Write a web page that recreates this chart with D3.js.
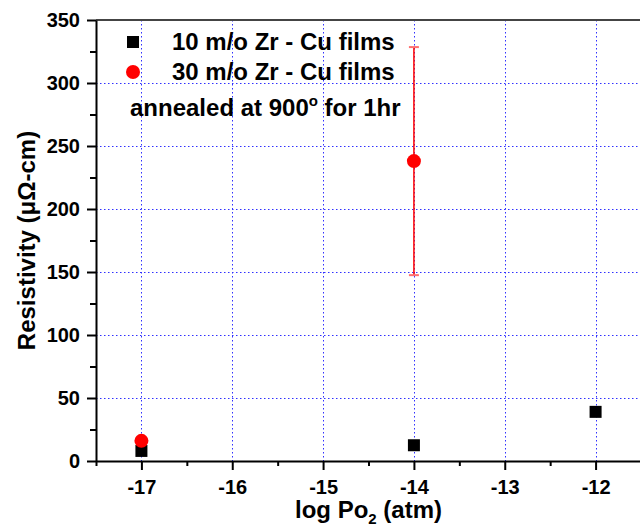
<!DOCTYPE html>
<html>
<head>
<meta charset="utf-8">
<script src="https://cdn.jsdelivr.net/npm/d3@7"></script>
<style>
	body { margin: 0; background: #fff; }
	svg text { font-family: Arial, 'Liberation Sans', sans-serif; font-weight: bold; }
</style>
</head>
<body>
<div id="chart"></div>
<script>
// data
const logPo2_10 = [-17, -14, -12];
const rho_10 = [8, 12.5, 39];
const logPo2_30 = [-17, -14];
const rho_30 = [16, 238];
const err_30 = [0, 90.5];

const xTicks = [-17, -16, -15, -14, -13, -12];
const xMinor = [-17.5, -16.5, -15.5, -14.5, -13.5, -12.5, -11.5];
const yTicks = [0, 50, 100, 150, 200, 250, 300, 350];
const yMinor = [25, 75, 125, 175, 225, 275, 325];

const width = 640, height = 530;
const margin = {top: 20, left: 96, bottom: 69};

const svg = d3.select('#chart')
	.append('svg')
	.attr('width', width)
	.attr('height', height);

const x = d3.scaleLinear().domain([-17.5, -11.5]).range([margin.left, 641]);
const y = d3.scaleLinear().domain([0, 350]).range([height - margin.bottom, margin.top]);

const fmt = d => String(d); // plain hyphen minus, as in the original

// grid (dotted blue)
const grid = svg.append('g')
	.attr('stroke', '#3030ff')
	.attr('stroke-width', 1)
	.attr('stroke-dasharray', '1.5,2.5');

grid.selectAll('line.v')
	.data(xTicks)
	.enter().append('line')
		.attr('class', 'v')
		.attr('x1', d => Math.round(x(d)) + 0.5)
		.attr('x2', d => Math.round(x(d)) + 0.5)
		.attr('y1', y(350))
		.attr('y2', y(0));

grid.selectAll('line.h')
	.data(yTicks.filter(d => d > 0 && d < 350))
	.enter().append('line')
		.attr('class', 'h')
		.attr('x1', x(-17.5))
		.attr('x2', width)
		.attr('y1', d => Math.round(y(d)) + 0.5)
		.attr('y2', d => Math.round(y(d)) + 0.5);

// top frame
svg.append('line')
	.attr('x1', x(-17.5)).attr('x2', width)
	.attr('y1', y(350)).attr('y2', y(350))
	.attr('stroke', '#444')
	.attr('stroke-width', 2);

// minor ticks
svg.append('g')
	.attr('transform', `translate(0,${y(0)})`)
	.call(d3.axisBottom(x).tickValues(xMinor).tickSize(5).tickFormat(''))
	.call(g => g.select('.domain').remove())
	.selectAll('line').attr('stroke-width', 2);

svg.append('g')
	.attr('transform', `translate(${x(-17.5)},0)`)
	.call(d3.axisLeft(y).tickValues(yMinor).tickSize(6).tickFormat(''))
	.call(g => g.select('.domain').remove())
	.selectAll('line').attr('stroke-width', 2);

// x axis
const xAxis = svg.append('g')
	.attr('transform', `translate(0,${y(0)})`)
	.call(d3.axisBottom(x).tickValues(xTicks).tickFormat(fmt).tickSize(9).tickSizeOuter(0).tickPadding(10));
xAxis.select('.domain').attr('stroke-width', 2);
xAxis.selectAll('line').attr('stroke-width', 2);
xAxis.selectAll('text').attr('font-size', 20).attr('fill', '#000');

// y axis
const yAxis = svg.append('g')
	.attr('transform', `translate(${x(-17.5)},0)`)
	.call(d3.axisLeft(y).tickValues(yTicks).tickFormat(fmt).tickSize(9).tickSizeOuter(0).tickPadding(7));
yAxis.select('.domain').attr('stroke-width', 2);
yAxis.selectAll('line').attr('stroke-width', 2);
yAxis.selectAll('text').attr('font-size', 20).attr('fill', '#000');

// axis titles
const xTitle = svg.append('text')
	.attr('x', (x(-17.5) + x(-11.5)) / 2)
	.attr('y', 518)
	.attr('text-anchor', 'middle')
	.attr('font-size', 24);
xTitle.append('tspan').text('log Po');
xTitle.append('tspan').attr('font-size', 15).attr('dy', 6).text('2');
xTitle.append('tspan').attr('dy', -6).text(' (atm)');

svg.append('text')
	.attr('transform', `translate(35,${(y(0) + y(350)) / 2}) rotate(-90)`)
	.attr('text-anchor', 'middle')
	.attr('font-size', 24)
	.text('Resistivity (\u03bc\u03a9-cm)');

// error bars for 30 m/o
const errData = logPo2_30.map((p, i) => ({p, v: rho_30[i], e: err_30[i]})).filter(d => d.e > 0);
const eb = svg.append('g').attr('stroke', 'red');
eb.selectAll('line.bar')
	.data(errData)
	.enter().append('line')
		.attr('x1', d => x(d.p)).attr('x2', d => x(d.p))
		.attr('y1', d => y(d.v + d.e)).attr('y2', d => y(d.v - d.e))
		.attr('stroke-width', 1.5);
eb.selectAll('line.cap')
	.data(errData.flatMap(d => [d.v + d.e, d.v - d.e].map(v => ({p: d.p, v}))))
	.enter().append('line')
		.attr('x1', d => x(d.p) - 5).attr('x2', d => x(d.p) + 5)
		.attr('y1', d => y(d.v)).attr('y2', d => y(d.v))
		.attr('stroke', '#ff7070')
		.attr('stroke-width', 2);

// 10 m/o squares
const sq = 12;
svg.append('g')
	.selectAll('rect')
	.data(logPo2_10.map((p, i) => ({p, v: rho_10[i]})))
	.enter().append('rect')
		.attr('x', d => x(d.p) - sq / 2)
		.attr('y', d => y(d.v) - sq / 2)
		.attr('width', sq)
		.attr('height', sq)
		.attr('fill', '#000');

// 30 m/o circles
svg.append('g')
	.selectAll('circle')
	.data(logPo2_30.map((p, i) => ({p, v: rho_30[i]})))
	.enter().append('circle')
		.attr('cx', d => x(d.p))
		.attr('cy', d => y(d.v))
		.attr('r', 7)
		.attr('fill', 'red');

// legend
const legend = svg.append('g');
legend.append('rect')
	.attr('x', 127).attr('y', 36).attr('width', sq).attr('height', sq)
	.attr('fill', '#000');
legend.append('circle')
	.attr('cx', 133).attr('cy', 72).attr('r', 7)
	.attr('fill', 'red');
legend.append('text')
	.attr('x', 172).attr('y', 50)
	.attr('font-size', 24)
	.text('10 m/o Zr - Cu films');
legend.append('text')
	.attr('x', 172).attr('y', 80)
	.attr('font-size', 24)
	.text('30 m/o Zr - Cu films');
const ann = legend.append('text')
	.attr('x', 130).attr('y', 116)
	.attr('font-size', 24);
ann.append('tspan').text('annealed at 900');
ann.append('tspan').attr('font-size', 15).attr('dy', -10).text('o');
ann.append('tspan').attr('dy', 10).text(' for 1hr');
</script>
</body>
</html>
